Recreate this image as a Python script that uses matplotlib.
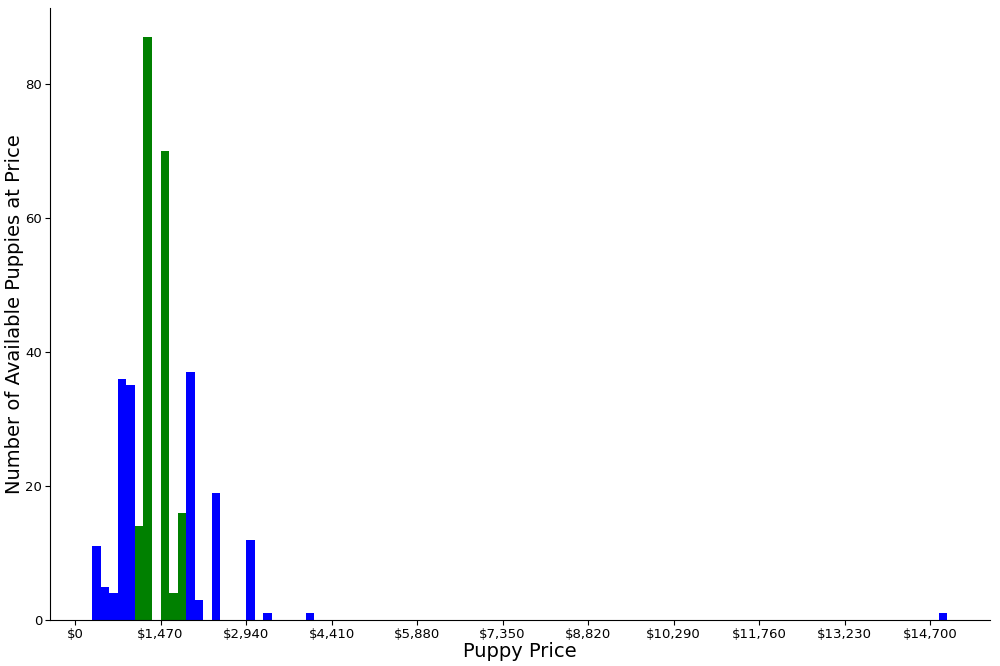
import matplotlib
matplotlib.use("Agg")
import matplotlib.pyplot as plt
from matplotlib.ticker import FuncFormatter

BIN_WIDTH = 147
bin_index = [2, 3, 4, 5, 6, 7, 8, 10, 11, 12, 13, 14, 16, 20, 22, 27, 101]
counts = [11, 5, 4, 36, 35, 14, 87, 70, 4, 16, 37, 3, 19, 12, 1, 1, 1]
colors = ["blue", "blue", "blue", "blue", "blue", "green", "green", "green", "green",
          "green", "blue", "blue", "blue", "blue", "blue", "blue", "blue"]
tick_values = [0, 1470, 2940, 4410, 5880, 7350, 8820, 10290, 11760, 13230, 14700]

fig, ax = plt.subplots(figsize=(10, 6.66), dpi=100)
left_edges = [i * BIN_WIDTH for i in bin_index]
ax.bar(left_edges, counts, width=BIN_WIDTH, align="edge", color=colors)

ax.set_xticks(tick_values)
ax.xaxis.set_major_formatter(FuncFormatter(lambda x, p: f"${x:,.0f}"))
ax.set_xlim(-430, 15730)
ax.set_ylim(0, 91.3)
ax.set_yticks([0, 20, 40, 60, 80])
ax.tick_params(labelsize=9.5, pad=2)
ax.set_xlabel("Puppy Price", fontsize=14, labelpad=1)
ax.set_ylabel("Number of Available Puppies at Price", fontsize=14, labelpad=1)
ax.spines["top"].set_visible(False)
ax.spines["right"].set_visible(False)

plt.subplots_adjust(left=0.05, right=0.99, bottom=0.069, top=0.988)
fig.savefig("out.png", dpi=100)
